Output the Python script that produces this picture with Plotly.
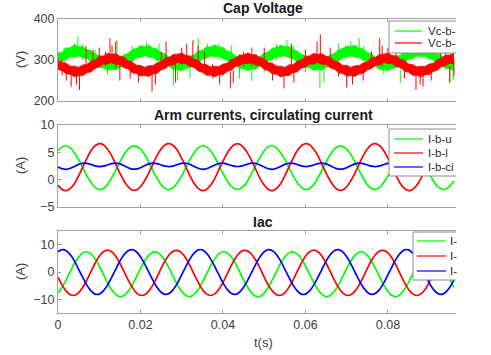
import plotly.graph_objects as go

# ---------------- data ----------------
t = [k / 1000 for k in range(97)]  # time samples, 1 ms step

# Cap voltage bands (upper / lower envelope of the noisy traces), V
vc_u_hi = [317, 319, 329, 330, 337, 333, 333, 325, 323, 314, 311, 302, 303, 299, 304, 304, 313, 316, 325, 328,
           335, 333, 336, 329, 327, 318, 315, 306, 305, 299, 302, 302, 309, 312, 322, 324, 332, 332, 337, 331,
           331, 322, 319, 310, 307, 301, 302, 300, 306, 308, 317, 320, 329, 330, 336, 333, 333, 326, 322, 314,
           311, 303, 303, 299, 304, 304, 313, 316, 325, 328, 334, 333, 336, 329, 327, 318, 315, 306, 305, 299,
           302, 302, 309, 312, 321, 324, 332, 332, 337, 331, 331, 322, 319, 310, 307, 301, 302]
vc_u_lo = [289, 298, 301, 308, 307, 311, 305, 304, 295, 292, 283, 281, 275, 277, 276, 282, 285, 294, 297, 306,
           306, 311, 307, 307, 299, 296, 287, 284, 277, 277, 274, 280, 281, 290, 293, 302, 304, 310, 308, 309,
           303, 300, 291, 288, 279, 279, 274, 278, 278, 286, 289, 298, 301, 308, 308, 311, 305, 304, 295, 292,
           283, 281, 275, 277, 276, 282, 285, 294, 297, 306, 306, 311, 307, 307, 299, 296, 287, 284, 277, 277,
           274, 280, 281, 290, 293, 302, 304, 310, 308, 309, 303, 300, 291, 288, 279, 279, 274]
vc_l_hi = [303, 294, 292, 285, 285, 282, 288, 289, 297, 300, 309, 310, 316, 314, 315, 309, 307, 298, 295, 287,
           287, 282, 286, 286, 293, 296, 305, 307, 314, 314, 317, 311, 310, 302, 299, 290, 289, 283, 285, 284,
           290, 292, 301, 304, 312, 312, 317, 313, 313, 306, 303, 294, 292, 285, 285, 282, 288, 289, 297, 300,
           309, 310, 316, 314, 315, 309, 307, 298, 295, 287, 287, 282, 286, 286, 293, 296, 305, 307, 314, 314,
           317, 311, 310, 302, 299, 290, 289, 283, 285, 284, 290, 292, 301, 304, 312, 312, 317]
vc_l_lo = [277, 274, 266, 265, 259, 262, 262, 269, 271, 280, 283, 290, 290, 294, 289, 289, 281, 278, 269, 267,
           261, 262, 260, 266, 267, 276, 279, 287, 288, 294, 291, 291, 284, 282, 273, 270, 263, 263, 259, 264,
           264, 272, 275, 284, 286, 292, 291, 293, 287, 286, 277, 274, 266, 265, 259, 262, 262, 269, 271, 280,
           283, 290, 290, 294, 289, 289, 281, 278, 269, 267, 261, 262, 260, 266, 267, 276, 279, 287, 288, 294,
           291, 291, 284, 282, 273, 270, 263, 263, 259, 264, 264, 272, 275, 284, 286, 292, 291]

# isolated voltage spikes: time, lower end, upper end (V)
vc_u_spk_t = [0.0040, 0.0048, 0.0060, 0.0143, 0.0215, 0.0280, 0.0290, 0.0340, 0.0362, 0.0440, 0.0470,
              0.0555, 0.0570, 0.0635, 0.0645, 0.0730, 0.0742, 0.0830, 0.0950, 0.0958,
              0.0015, 0.0090, 0.0120, 0.0180, 0.0245, 0.0320, 0.0390, 0.0420, 0.0500, 0.0530, 0.0600,
              0.0680, 0.0710, 0.0790, 0.0860, 0.0900]
vc_u_spk_lo = [310, 305, 300, 290, 315, 239, 250, 310, 315, 255, 250, 315, 300, 231, 245, 315, 310, 243, 243, 250,
               285, 275, 265, 290, 300, 255, 300, 300, 270, 300, 270, 300, 305, 265, 300, 300]
vc_u_spk_hi = [340, 357, 340, 349, 345, 285, 285, 353, 340, 290, 280, 349, 335, 285, 280, 353, 335, 290, 290, 285,
               330, 325, 300, 335, 340, 290, 340, 335, 300, 340, 305, 340, 345, 300, 340, 335]
vc_l_spk_t = [0.0032, 0.0045, 0.0052, 0.0068, 0.0126, 0.0131, 0.0140, 0.0150, 0.0228, 0.0236, 0.0262, 0.0285,
              0.0312, 0.0327, 0.0340, 0.0392, 0.0418, 0.0425, 0.0500, 0.0548, 0.0566, 0.0572, 0.0628, 0.0636,
              0.0700, 0.0714, 0.0780, 0.0786, 0.0800, 0.0868, 0.0878, 0.0885, 0.0928, 0.0950,
              0.0010, 0.0020, 0.0085, 0.0100, 0.0115, 0.0175, 0.0195, 0.0250, 0.0300, 0.0355, 0.0375, 0.0450,
              0.0470, 0.0520, 0.0600, 0.0660, 0.0680, 0.0740, 0.0760, 0.0820, 0.0840, 0.0905, 0.0940, 0.0960]
vc_l_spk_lo = [235, 240, 227, 270, 295, 290, 280, 250, 223, 240, 290, 245, 290, 295, 285, 240, 231, 245, 290, 231,
               275, 245, 295, 290, 233, 240, 290, 285, 290, 227, 240, 235, 290, 245,
               262, 250, 285, 290, 285, 255, 245, 285, 290, 280, 255, 285, 285, 250, 285, 285, 260, 250, 285, 290,
               255, 250, 285, 260]
vc_l_spk_hi = [285, 280, 275, 335, 353, 335, 345, 290, 270, 270, 345, 290, 340, 348, 335, 275, 272, 275, 330, 270,
               340, 275, 345, 362, 272, 270, 353, 335, 330, 270, 268, 270, 320, 285,
               300, 290, 325, 330, 320, 285, 280, 320, 330, 320, 290, 320, 330, 285, 325, 330, 290, 290, 320, 330,
               290, 285, 325, 300]

# Arm currents and circulating current, A
i_b_u = [5.3, 6.0, 6.2, 5.8, 4.9, 3.7, 2.2, 0.7, -0.5, -1.4, -1.8, -1.6, -0.9, 0.3, 1.7, 3.2, 4.6, 5.6, 6.1, 6.1,
         5.6, 4.6, 3.2, 1.7, 0.3, -0.9, -1.6, -1.8, -1.4, -0.5, 0.7, 2.2, 3.7, 4.9, 5.8, 6.2, 6.0, 5.3, 4.1, 2.7,
         1.2, -0.2, -1.2, -1.7, -1.7, -1.2, -0.2, 1.2, 2.7, 4.1,
         5.3, 6.0, 6.2, 5.8, 4.9, 3.7, 2.2, 0.7, -0.5, -1.4, -1.8, -1.6, -0.9, 0.3, 1.7, 3.2, 4.6, 5.6, 6.1, 6.1,
         5.6, 4.6, 3.2, 1.7, 0.3, -0.9, -1.6, -1.8, -1.4, -0.5, 0.7, 2.2, 3.7, 4.9, 5.8, 6.2, 6.0, 5.3, 4.1, 2.7,
         1.2, -0.2, -1.2, -1.7, -1.7, -1.2, -0.2]
i_b_l = [-1.0, -1.8, -2.0, -1.6, -0.7, 0.7, 2.3, 3.9, 5.3, 6.2, 6.6, 6.4, 5.6, 4.4, 2.8, 1.2, -0.2, -1.3, -1.9, -1.9,
         -1.3, -0.2, 1.2, 2.8, 4.4, 5.6, 6.4, 6.6, 6.2, 5.3, 3.9, 2.3, 0.7, -0.7, -1.6, -2.0, -1.8, -1.0, 0.2, 1.8,
         3.4, 4.8, 5.9, 6.5, 6.5, 5.9, 4.8, 3.4, 1.8, 0.2,
         -1.0, -1.8, -2.0, -1.6, -0.7, 0.7, 2.3, 3.9, 5.3, 6.2, 6.6, 6.4, 5.6, 4.4, 2.8, 1.2, -0.2, -1.3, -1.9, -1.9,
         -1.3, -0.2, 1.2, 2.8, 4.4, 5.6, 6.4, 6.6, 6.2, 5.3, 3.9, 2.3, 0.7, -0.7, -1.6, -2.0, -1.8, -1.0, 0.2, 1.8,
         3.4, 4.8, 5.9, 6.5, 6.5, 5.9, 4.8]
i_b_cir = [2.30, 1.99, 1.90, 2.08, 2.43, 2.79, 3.00, 2.98, 2.77, 2.53, 2.40, 2.47, 2.69, 2.92, 3.02, 2.89, 2.56,
           2.18, 1.94, 1.94, 2.18, 2.56, 2.89, 3.02, 2.92, 2.69, 2.47, 2.40, 2.53, 2.77, 2.98, 3.00, 2.79, 2.43,
           2.08, 1.90, 1.99, 2.30, 2.68, 2.96, 3.01, 2.85, 2.61, 2.43, 2.43, 2.61, 2.85, 3.01, 2.96, 2.68,
           2.30, 1.99, 1.90, 2.08, 2.43, 2.79, 3.00, 2.98, 2.77, 2.53, 2.40, 2.47, 2.69, 2.92, 3.02, 2.89, 2.56,
           2.18, 1.94, 1.94, 2.18, 2.56, 2.89, 3.02, 2.92, 2.69, 2.47, 2.40, 2.53, 2.77, 2.98, 3.00, 2.79, 2.43,
           2.08, 1.90, 1.99, 2.30, 2.68, 2.96, 3.01, 2.85, 2.61, 2.43, 2.43, 2.61, 2.85]

# AC phase currents, A
i_a = [-7.7, -5.6, -2.8, 0.2, 3.2, 5.5, 7.0, 7.4, 6.6, 4.8, 2.2, -0.8, -3.8, -6.4, -8.2, -9.0, -8.6, -7.1, -4.8, -1.8,
       1.2, 4.0, 6.1, 7.3, 7.3, 6.1, 4.0, 1.2, -1.8, -4.8, -7.1, -8.6, -9.0, -8.2, -6.4, -3.8, -0.8, 2.2, 4.8, 6.6,
       7.4, 7.0, 5.5, 3.2, 0.2, -2.8, -5.6, -7.7, -8.9, -8.9,
       -7.7, -5.6, -2.8, 0.2, 3.2, 5.5, 7.0, 7.4, 6.6, 4.8, 2.2, -0.8, -3.8, -6.4, -8.2, -9.0, -8.6, -7.1, -4.8, -1.8,
       1.2, 4.0, 6.1, 7.3, 7.3, 6.1, 4.0, 1.2, -1.8, -4.8, -7.1, -8.6, -9.0, -8.2, -6.4, -3.8, -0.8, 2.2, 4.8, 6.6,
       7.4, 7.0, 5.5, 3.2, 0.2, -2.8, -5.6]
i_b = [-1.9, -4.8, -7.0, -8.3, -8.5, -7.6, -5.6, -2.9, 0.2, 3.2, 5.8, 7.4, 8.0, 7.4, 5.8, 3.2, 0.2, -2.9, -5.6, -7.6,
       -8.5, -8.3, -7.0, -4.8, -1.9, 1.3, 4.2, 6.4, 7.7, 7.9, 7.0, 5.0, 2.3, -0.8, -3.8, -6.4, -8.0, -8.6, -8.0, -6.4,
       -3.8, -0.8, 2.3, 5.0, 7.0, 7.9, 7.7, 6.4, 4.2, 1.3,
       -1.9, -4.8, -7.0, -8.3, -8.5, -7.6, -5.6, -2.9, 0.2, 3.2, 5.8, 7.4, 8.0, 7.4, 5.8, 3.2, 0.2, -2.9, -5.6, -7.6,
       -8.5, -8.3, -7.0, -4.8, -1.9, 1.3, 4.2, 6.4, 7.7, 7.9, 7.0, 5.0, 2.3, -0.8, -3.8, -6.4, -8.0, -8.6, -8.0, -6.4,
       -3.8, -0.8, 2.3, 5.0, 7.0, 7.9, 7.7]
i_c = [7.4, 8.2, 7.8, 6.3, 4.0, 1.0, -2.0, -4.8, -6.9, -8.1, -8.1, -6.9, -4.8, -2.0, 1.0, 4.0, 6.3, 7.8, 8.2, 7.4,
       5.6, 3.0, 0.0, -3.0, -5.6, -7.4, -8.2, -7.8, -6.3, -4.0, -1.0, 2.0, 4.8, 6.9, 8.1, 8.1, 6.9, 4.8, 2.0, -1.0,
       -4.0, -6.3, -7.8, -8.2, -7.4, -5.6, -3.0, 0.0, 3.0, 5.6,
       7.4, 8.2, 7.8, 6.3, 4.0, 1.0, -2.0, -4.8, -6.9, -8.1, -8.1, -6.9, -4.8, -2.0, 1.0, 4.0, 6.3, 7.8, 8.2, 7.4,
       5.6, 3.0, 0.0, -3.0, -5.6, -7.4, -8.2, -7.8, -6.3, -4.0, -1.0, 2.0, 4.8, 6.9, 8.1, 8.1, 6.9, 4.8, 2.0, -1.0,
       -4.0, -6.3, -7.8, -8.2, -7.4, -5.6, -3.0]

titles = ["Cap Voltage", "Arm currents, circulating current", "Iac"]
ylabels = ["(V)", "(A)", "(A)"]
xtick_vals = [0, 0.02, 0.04, 0.06, 0.08]
xtick_text = ["0", "0.02", "0.04", "0.06", "0.08"]
ytick_vals = [[200, 300, 400], [-5, 0, 5, 10], [-10, 0, 10]]
y_ranges = [[200, 400], [-5, 10], [-15, 15]]
legend_names = [["Vc-b-", "Vc-b-"], ["I-b-u", "I-b-l", "I-b-ci"], ["I-", "I-", "I-"]]

GREEN, RED, BLUE = "#00ff00", "#ff0000", "#0000ff"

# ---------------- figure ----------------
W, H = 491, 355
L, R = 58, 456
FONT = "Liberation Sans"


def px(xp):
    return (xp - L) / (R - L)


def py(yp):
    return 1 - yp / H


def segments(ts, los, his):
    xs, ys = [], []
    for a, b, c in zip(ts, los, his):
        xs += [a, a, None]
        ys += [b, c, None]
    return xs, ys


fig = go.Figure()

# panel 1: noisy bands + spikes (red drawn on top of green)
for lo, hi, st, slo, shi, col in [(vc_u_lo, vc_u_hi, vc_u_spk_t, vc_u_spk_lo, vc_u_spk_hi, GREEN),
                                  (vc_l_lo, vc_l_hi, vc_l_spk_t, vc_l_spk_lo, vc_l_spk_hi, RED)]:
    fig.add_trace(go.Scatter(x=t, y=lo, mode="lines", line=dict(color=col, width=0.8),
                             xaxis="x", yaxis="y", showlegend=False, hoverinfo="skip"))
    fig.add_trace(go.Scatter(x=t, y=hi, mode="lines", line=dict(color=col, width=0.8),
                             fill="tonexty", fillcolor=col,
                             xaxis="x", yaxis="y", showlegend=False, hoverinfo="skip"))
    sx, sy = segments(st, slo, shi)
    fig.add_trace(go.Scatter(x=sx, y=sy, mode="lines", line=dict(color=col, width=1),
                             xaxis="x", yaxis="y", showlegend=False, hoverinfo="skip"))

for ser, col in [(i_b_u, GREEN), (i_b_l, RED), (i_b_cir, BLUE)]:
    fig.add_trace(go.Scatter(x=t, y=ser, mode="lines", line=dict(color=col, width=1.7, shape="spline"),
                             xaxis="x2", yaxis="y2", showlegend=False))
for ser, col in [(i_a, GREEN), (i_b, RED), (i_c, BLUE)]:
    fig.add_trace(go.Scatter(x=t, y=ser, mode="lines", line=dict(color=col, width=1.7, shape="spline"),
                             xaxis="x3", yaxis="y3", showlegend=False))

# panel vertical extents in pixels (top, bottom)
panels = [(19, 101), (125, 207), (231, 313)]
axis_col = "#a0a0a0"
tick_font = dict(family=FONT, size=12.5, color="#404040")

layout = dict(width=W, height=H, margin=dict(l=L, r=W - R, t=0, b=0, autoexpand=False),
              paper_bgcolor="white", plot_bgcolor="white", showlegend=False)
for i, (top, bot) in enumerate(panels):
    sx = "" if i == 0 else str(i + 1)
    layout["xaxis" + sx] = dict(domain=[0, 1], range=[0, 0.0965], anchor="y" + sx,
                                tickvals=xtick_vals, ticktext=xtick_text,
                                showticklabels=(i == 2), ticks="inside", ticklen=3,
                                tickcolor=axis_col, showline=True, linecolor=axis_col,
                                mirror="ticks", showgrid=False, zeroline=False,
                                tickfont=tick_font, automargin=False)
    layout["yaxis" + sx] = dict(domain=[py(bot), py(top)], range=y_ranges[i], anchor="x" + sx,
                                tickvals=ytick_vals[i], ticks="inside", ticklen=3,
                                tickcolor=axis_col, showline=True, linecolor=axis_col,
                                mirror=False, showgrid=False, zeroline=False,
                                tickfont=tick_font, automargin=False)
fig.update_layout(**layout)

annotations = []
title_y = [8, 115, 222]
for i in range(3):
    annotations.append(dict(text="<b>" + titles[i] + "</b>", x=px(263), y=py(title_y[i]),
                            xref="paper", yref="paper", showarrow=False,
                            font=dict(family=FONT, size=14, color="#1a1a1a"),
                            xanchor="center", yanchor="middle"))
    top, bot = panels[i]
    annotations.append(dict(text=ylabels[i], x=px(20), y=py((top + bot) / 2), xref="paper", yref="paper",
                            showarrow=False, textangle=-90,
                            font=dict(family=FONT, size=13, color="#404040"),
                            xanchor="center", yanchor="middle"))
annotations.append(dict(text="t(s)", x=px(263), y=py(342), xref="paper", yref="paper", showarrow=False,
                        font=dict(family=FONT, size=13, color="#404040"),
                        xanchor="center", yanchor="middle"))

# manual legends (clipped at right edge as in reference)
shapes = []
legends = [
    dict(left=389, top=21, bot=53, rows=[31, 43], lx=(395, 422), tx=427, cols=[GREEN, RED]),
    dict(left=389, top=129, bot=176, rows=[139, 153, 167], lx=(394, 423), tx=427, cols=[GREEN, RED, BLUE]),
    dict(left=413, top=232, bot=280, rows=[241, 256, 271], lx=(417, 446), tx=449, cols=[GREEN, RED, BLUE]),
]
for i, lg in enumerate(legends):
    shapes.append(dict(type="rect", xref="paper", yref="paper", x0=px(lg["left"]), x1=px(R),
                       y0=py(lg["bot"]), y1=py(lg["top"]), fillcolor="white", line=dict(width=0),
                       layer="above"))
    for (xa, ya, xb, yb) in [(lg["left"], lg["top"], R, lg["top"]), (lg["left"], lg["bot"], R, lg["bot"]),
                             (lg["left"], lg["top"], lg["left"], lg["bot"])]:
        shapes.append(dict(type="line", xref="paper", yref="paper", x0=px(xa), x1=px(xb),
                           y0=py(ya), y1=py(yb), line=dict(color="#8c8c8c", width=1), layer="above"))
    for j, yr in enumerate(lg["rows"]):
        shapes.append(dict(type="line", xref="paper", yref="paper", x0=px(lg["lx"][0]), x1=px(lg["lx"][1]),
                           y0=py(yr), y1=py(yr), line=dict(color=lg["cols"][j], width=1.2), layer="above"))
        annotations.append(dict(text=legend_names[i][j], x=px(lg["tx"]), y=py(yr), xref="paper", yref="paper",
                                showarrow=False, xanchor="left", yanchor="middle", borderpad=0,
                                font=dict(family=FONT, size=11.5, color="#262626")))

fig.update_layout(annotations=annotations, shapes=shapes)
fig.write_html("out.html", config={"displayModeBar": False},
               post_script="document.body.style.margin='0';document.body.style.padding='0';")
